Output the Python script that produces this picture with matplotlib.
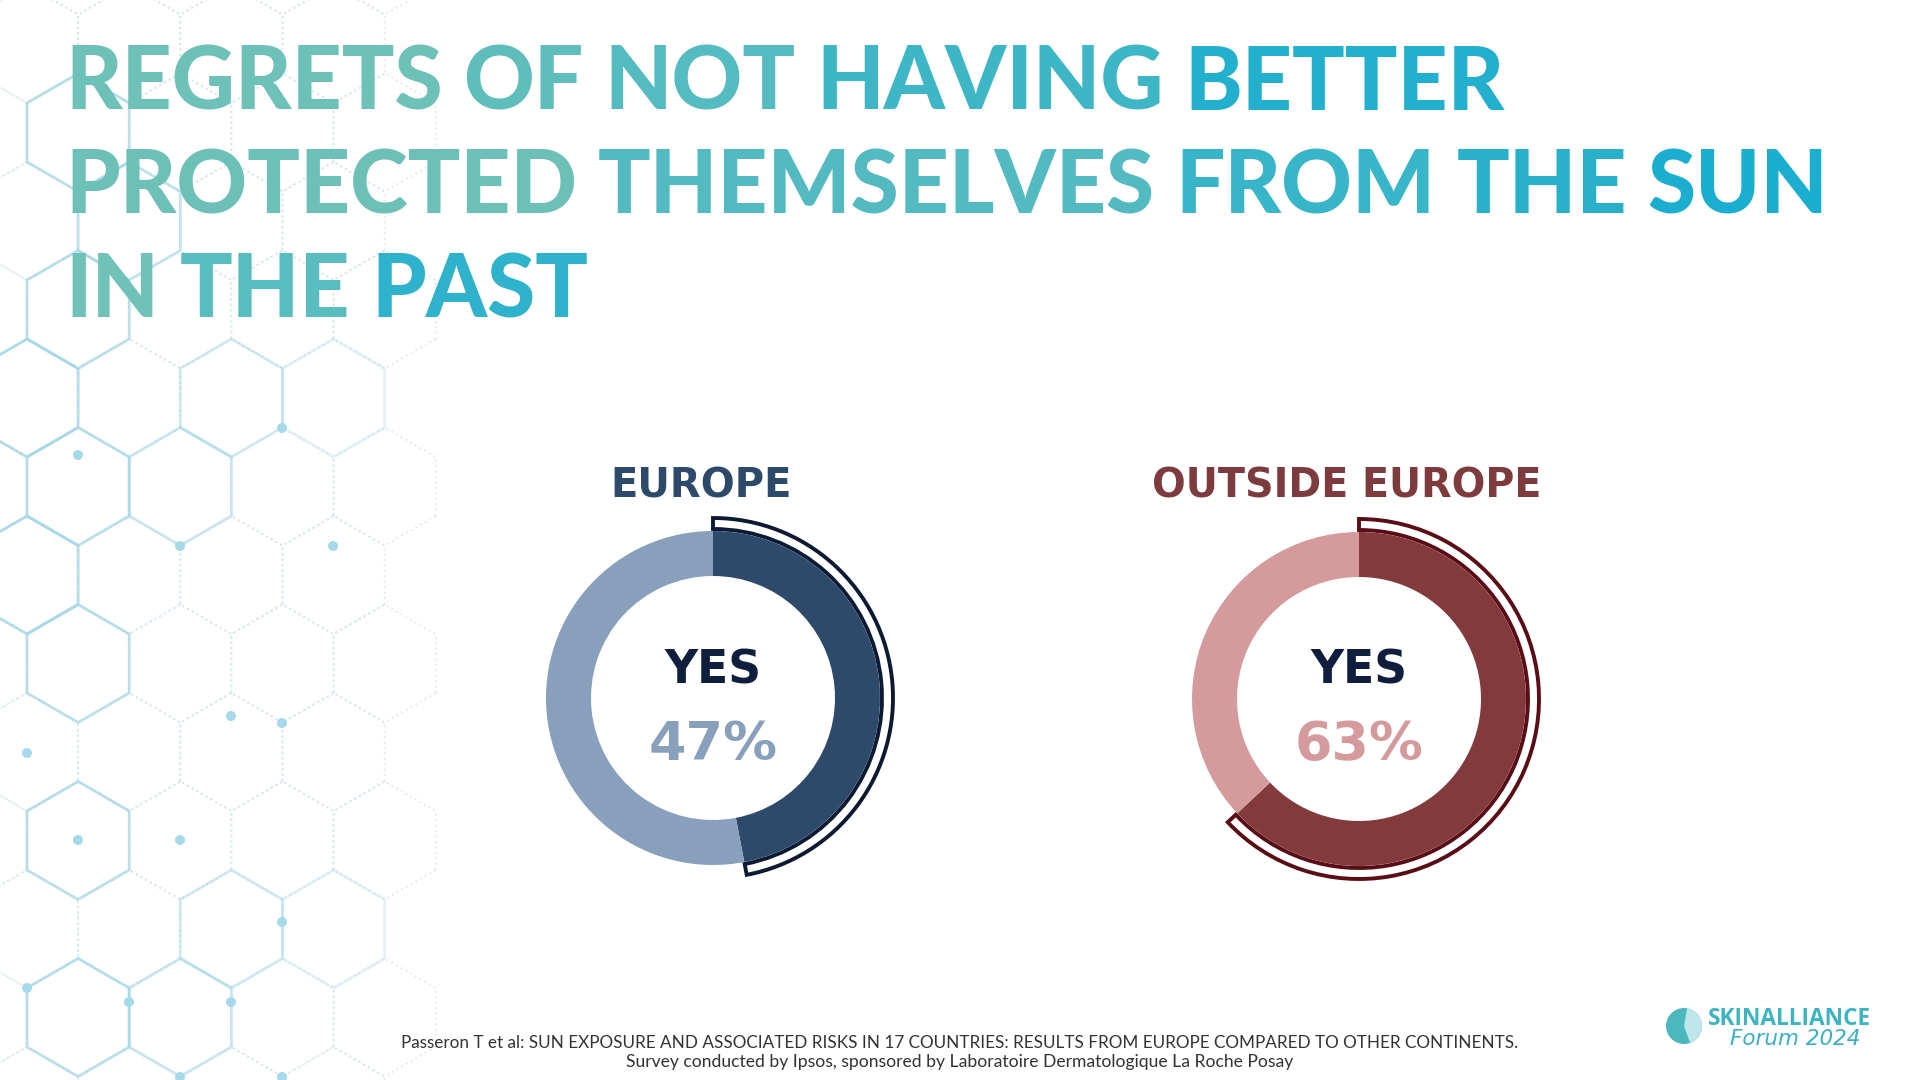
import matplotlib
matplotlib.use("Agg")
import matplotlib.pyplot as plt
import numpy as np
from matplotlib.colors import to_rgb
from matplotlib.patches import Polygon, Circle, Wedge

# ---- data ----
regions = ["EUROPE", "OUTSIDE EUROPE"]
yes_pct = [47, 63]
center_label = "YES"
title_lines = ["REGRETS OF NOT HAVING BETTER",
               "PROTECTED THEMSELVES FROM THE SUN",
               "IN THE PAST"]
footer_lines = ["Passeron T et al: SUN EXPOSURE AND ASSOCIATED RISKS IN 17 COUNTRIES: RESULTS FROM EUROPE COMPARED TO OTHER CONTINENTS.",
                "Survey conducted by Ipsos, sponsored by Laboratoire Dermatologique La Roche Posay"]

# colours per donut
dark_cols = ["#2e4a6b", "#833a3d"]
light_cols = ["#88a0bb", "#d49a9c"]
outline_cols = ["#0d1a33", "#5a0d14"]
label_cols = ["#2e4a6b", "#7d3b3d"]

W, H = 1920, 1080
fig = plt.figure(figsize=(19.2, 10.8), dpi=100)
fig.patch.set_facecolor("white")
bg = fig.add_axes([0, 0, 1, 1])
bg.set_xlim(0, W)
bg.set_ylim(H, 0)
bg.axis("off")
renderer = fig.canvas.get_renderer()


def width_of(s, **kw):
    t = bg.text(0, 0, s, **kw)
    w = t.get_window_extent(renderer).width
    t.remove()
    return w


def fit_size(s, target_w, base=40, **kw):
    return base * target_w / width_of(s, fontsize=base, **kw)


# ---- background honeycomb (pointy-top hexagons) ----
R = 59.0
hex_w = np.sqrt(3) * R
solid = {(0, 0), (0, 2), (0, 3), (1, 0), (1, 1), (-1, 0), (-3, 0), (-2, 1),
         (3, 0), (6, 3), (6, 2), (7, 0), (7, 1), (5, 0), (2, 0)}
dots = [(78, 455), (180, 546), (282, 428), (231, 716), (333, 546),
        (27, 753), (78, 840), (180, 840), (180, 1077), (282, 1077),
        (27, 988), (129, 1002), (231, 1002), (282, 723), (282, 922)]
for j in range(-5, 9):
    cy = 398 + 1.5 * R * j
    off = 0 if j % 2 == 0 else hex_w / 2
    for i in range(-1, 4):
        cx = 27 + off + hex_w * i
        if cx > 400:
            continue
        ang = np.deg2rad(np.arange(6) * 60 + 30)
        pts = np.c_[cx + R * np.cos(ang), cy + R * np.sin(ang)]
        fade = max(0.15, 1 - cx / 420)
        if (j, i) in solid:
            bg.add_patch(Polygon(pts, closed=True, fill=False, ec="#a9d8e8",
                                 lw=2.0, alpha=0.85 * fade + 0.15, zorder=0))
        else:
            bg.add_patch(Polygon(pts, closed=True, fill=False, ec="#cfe2e8",
                                 lw=1.3, ls=(0, (1, 2)), alpha=0.75, zorder=0))
for x, y in dots:
    bg.add_patch(Circle((x, y), 5, fc="#a6d9ea", ec="none", zorder=0))

# ---- title: gradient green -> cyan along each line, coloured per word ----
c0 = np.array(to_rgb("#74c2b6"))
c1 = np.array(to_rgb("#16add2"))
title_kw = dict(fontfamily="Lato", fontweight="black")
x0 = 65
tsize = fit_size(title_lines[1], 1763, **title_kw)
baselines = [110, 213, 317]
for line, yb in zip(title_lines, baselines):
    words = line.split(" ")
    lw_tot = width_of(line, fontsize=tsize, **title_kw)
    for k, wd in enumerate(words):
        prefix = " ".join(words[:k])
        x = x0
        if prefix:
            x += width_of(prefix + " I", fontsize=tsize, **title_kw) - width_of("I", fontsize=tsize, **title_kw)
        wlen = width_of(wd, fontsize=tsize, **title_kw)
        t = np.clip((x + wlen / 2 - x0) / lw_tot, 0, 1) ** 1.3
        col = c0 * (1 - t) + c1 * t
        bg.text(x, yb, wd, fontsize=tsize, color=col, va="baseline", ha="left", **title_kw)

# ---- donuts ----
centers = [(713, 698), (1359, 699)]
label_kw = dict(fontfamily="DejaVu Sans", fontweight="bold")
label_w = [182, 389]
for k in range(2):
    cx, cy = centers[k]
    S = 420
    ax = fig.add_axes([(cx - S / 2) / W, (H - cy - S / 2) / H, S / W, S / H])
    v = [yes_pct[k], 100 - yes_pct[k]]
    band, _ = ax.pie(v, radius=180, startangle=90, counterclock=False,
                     colors=["white", "white"],
                     wedgeprops=dict(width=11, edgecolor=outline_cols[k], linewidth=2.8))
    band[1].set_visible(False)
    ax.pie(v, radius=167, startangle=90, counterclock=False,
           colors=[dark_cols[k], light_cols[k]],
           wedgeprops=dict(width=45, edgecolor="none"))
    ax.set_xlim(-S / 2, S / 2)
    ax.set_ylim(-S / 2, S / 2)
    ax.axis("off")

    ls = fit_size(regions[k], label_w[k], **label_kw)
    bg.text(cx - 12, 497, regions[k], fontsize=ls, color=label_cols[k],
            ha="center", va="baseline", **label_kw)
    ys = fit_size(center_label, 97, **label_kw)
    bg.text(cx, 684, center_label, fontsize=ys, color="#0f1e3d",
            ha="center", va="baseline", **label_kw)
    ps = fit_size(f"{yes_pct[k]}%", 129, **label_kw)
    bg.text(cx, 760, f"{yes_pct[k]}%", fontsize=ps, color=light_cols[k],
            ha="center", va="baseline", **label_kw)

# ---- footer ----
foot_kw = dict(fontfamily="Lato")
fs = fit_size(footer_lines[0], 1117, **foot_kw)
bg.text(960, 1043, footer_lines[0], fontsize=fs, color="#333333", ha="center", va="center", **foot_kw)
bg.text(960, 1062, footer_lines[1], fontsize=fs * 1.02, color="#333333", ha="center", va="center", **foot_kw)

# ---- logo ----
bg.add_patch(Circle((1684, 1026), 18, fc="#4bb8bd", ec="none"))
bg.add_patch(Wedge((1684, 1026), 18, -80, 70, fc="#bfe6ea", ec="none"))
lsz = fit_size("SKINALLIANCE", 163, fontfamily="Open Sans", fontweight="bold")
bg.text(1708, 1019, "SKINALLIANCE", fontsize=lsz, color="#3cb4c2", ha="left", va="center",
        fontfamily="Open Sans", fontweight="bold")
bg.text(1730, 1039, "Forum 2024", fontsize=lsz * 0.95, color="#3aafc6", ha="left", va="center",
        fontfamily="DejaVu Sans", fontstyle="italic")

fig.savefig("out.png", dpi=100, facecolor="white")
